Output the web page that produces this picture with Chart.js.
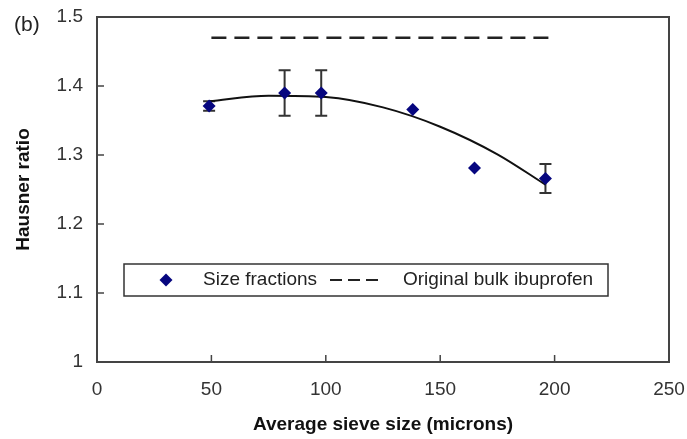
<!DOCTYPE html>
<html>
<head>
<meta charset="utf-8">
<script src="https://cdn.jsdelivr.net/npm/chart.js@4/dist/chart.umd.min.js"></script>
<style>
  html, body { margin: 0; padding: 0; background: #fff; }
  #wrap { width: 687px; height: 439px; }
</style>
</head>
<body>
<div id="wrap"><canvas id="graph1" width="687" height="439"></canvas></div>
<script>
// valores
const sieveSizes = [49, 82, 98, 138, 165, 196];
const hausner = [1.371, 1.390, 1.390, 1.366, 1.281, 1.266];
const hausnerErr = [0.007, 0.033, 0.033, 0, 0, 0.021];

const bulkX = [50, 200];
const bulkY = [1.47, 1.47];

// linha de tendência (lida ponto a ponto)
const fitX = [49, 75, 100, 125, 150, 175, 196];
const fitY = [1.378, 1.386, 1.384, 1.369, 1.341, 1.301, 1.257];

const xTicks = [0, 50, 100, 150, 200, 250];
const yTicks = [1, 1.1, 1.2, 1.3, 1.4, 1.5];

const FONT = "'Liberation Sans', Arial, sans-serif";
const NAVY = '#06067f';

function pairs(xs, ys) {
    return xs.map(function (x, i) { return { x: x, y: ys[i] }; });
}

const framePlugin = {
    id: 'framePlugin',
    beforeDatasetsDraw: function (chart) {
        // barras de erro
        const ctx = chart.ctx;
        const xs = chart.scales.x, ys = chart.scales.y;
        ctx.save();
        ctx.strokeStyle = '#333';
        ctx.lineWidth = 2;
        sieveSizes.forEach(function (s, i) {
            const e = hausnerErr[i];
            if (!e) return;
            const px = xs.getPixelForValue(s);
            const top = ys.getPixelForValue(hausner[i] + e);
            const bot = ys.getPixelForValue(hausner[i] - e);
            ctx.beginPath();
            ctx.moveTo(px, top); ctx.lineTo(px, bot);
            ctx.moveTo(px - 6, top); ctx.lineTo(px + 6, top);
            ctx.moveTo(px - 6, bot); ctx.lineTo(px + 6, bot);
            ctx.stroke();
        });
        ctx.restore();
    },
    afterDraw: function (chart) {
        const ctx = chart.ctx;
        const a = chart.chartArea;
        const xs = chart.scales.x, ys = chart.scales.y;
        ctx.save();
        // moldura
        ctx.strokeStyle = '#444';
        ctx.lineWidth = 2;
        ctx.strokeRect(a.left, a.top, a.right - a.left, a.bottom - a.top);
        // marcas dos eixos para dentro
        ctx.lineWidth = 1.5;
        ctx.beginPath();
        xTicks.forEach(function (t) {
            const px = xs.getPixelForValue(t);
            ctx.moveTo(px, a.bottom); ctx.lineTo(px, a.bottom - 7);
        });
        yTicks.forEach(function (t) {
            const py = ys.getPixelForValue(t);
            ctx.moveTo(a.left, py); ctx.lineTo(a.left + 7, py);
        });
        ctx.stroke();

        // legenda
        const lx = 124, ly = 264, lw = 484, lh = 32;
        ctx.fillStyle = '#fff';
        ctx.fillRect(lx, ly, lw, lh);
        ctx.strokeStyle = '#333';
        ctx.lineWidth = 1.5;
        ctx.strokeRect(lx, ly, lw, lh);
        const cy = ly + lh / 2;
        ctx.fillStyle = NAVY;
        ctx.beginPath();
        ctx.moveTo(166 - 6.5, cy); ctx.lineTo(166, cy - 6.5);
        ctx.lineTo(166 + 6.5, cy); ctx.lineTo(166, cy + 6.5);
        ctx.closePath();
        ctx.fill();
        ctx.fillStyle = '#222';
        ctx.font = '19px ' + FONT;
        ctx.textBaseline = 'middle';
        ctx.textAlign = 'left';
        ctx.fillText(chart.data.datasets[0].label, 203, cy);
        ctx.strokeStyle = '#222';
        ctx.lineWidth = 2;
        ctx.setLineDash([12, 6]);
        ctx.beginPath();
        ctx.moveTo(330, cy); ctx.lineTo(378, cy);
        ctx.stroke();
        ctx.setLineDash([]);
        ctx.fillText(chart.data.datasets[1].label, 403, cy);

        // rótulo do painel
        ctx.font = '21px ' + FONT;
        ctx.fillText('(b)', 14, 25);
        ctx.restore();
    }
};

document.addEventListener('DOMContentLoaded', function () {
    const ctx = document.getElementById('graph1').getContext('2d');
    new Chart(ctx, {
        type: 'scatter',
        data: {
            datasets: [{
                label: 'Size fractions',
                data: pairs(sieveSizes, hausner),
                pointStyle: 'rectRot',
                pointRadius: 6.5,
                borderWidth: 0,
                backgroundColor: NAVY,
                borderColor: NAVY,
                showLine: false,
                order: 1
            }, {
                label: 'Original bulk ibuprofen',
                data: pairs(bulkX, bulkY),
                showLine: true,
                pointRadius: 0,
                borderColor: '#222',
                borderWidth: 2.5,
                borderDash: [15, 8],
                order: 3
            }, {
                label: 'fit',
                data: pairs(fitX, fitY),
                showLine: true,
                pointRadius: 0,
                borderColor: '#111',
                borderWidth: 2,
                cubicInterpolationMode: 'monotone',
                order: 2
            }]
        },
        options: {
            responsive: false,
            maintainAspectRatio: false,
            animation: false,
            layout: { padding: { left: 0, right: 18, top: 17, bottom: 0 } },
            plugins: {
                legend: { display: false },
                tooltip: { enabled: false }
            },
            scales: {
                x: {
                    type: 'linear',
                    min: 0, max: 250,
                    afterBuildTicks: function (s) { s.ticks = xTicks.map(function (v) { return { value: v }; }); },
                    afterFit: function (s) { s.height = 77; s.paddingRight = 0; s.paddingLeft = 0; },
                    grid: { display: false },
                    border: { display: false },
                    ticks: { color: '#333', font: { family: FONT, size: 19 }, padding: 8, maxRotation: 0 },
                    title: {
                        display: true,
                        text: 'Average sieve size (microns)',
                        color: '#111',
                        font: { family: FONT, size: 19, weight: 'bold' },
                        padding: { top: 0, bottom: 3 }
                    }
                },
                y: {
                    type: 'linear',
                    min: 1, max: 1.5,
                    afterBuildTicks: function (s) { s.ticks = yTicks.map(function (v) { return { value: v }; }); },
                    afterFit: function (s) { s.width = 97; s.paddingTop = 0; s.paddingBottom = 0; },
                    grid: { display: false },
                    border: { display: false },
                    ticks: {
                        color: '#333', font: { family: FONT, size: 19 }, padding: 6,
                        callback: function (v) { return String(Math.round(v * 10) / 10); }
                    },
                    title: {
                        display: true,
                        text: 'Hausner ratio',
                        color: '#111',
                        font: { family: FONT, size: 19, weight: 'bold' },
                        padding: { top: 12, bottom: 0 }
                    }
                }
            }
        },
        plugins: [framePlugin]
    });
});
</script>
</body>
</html>
